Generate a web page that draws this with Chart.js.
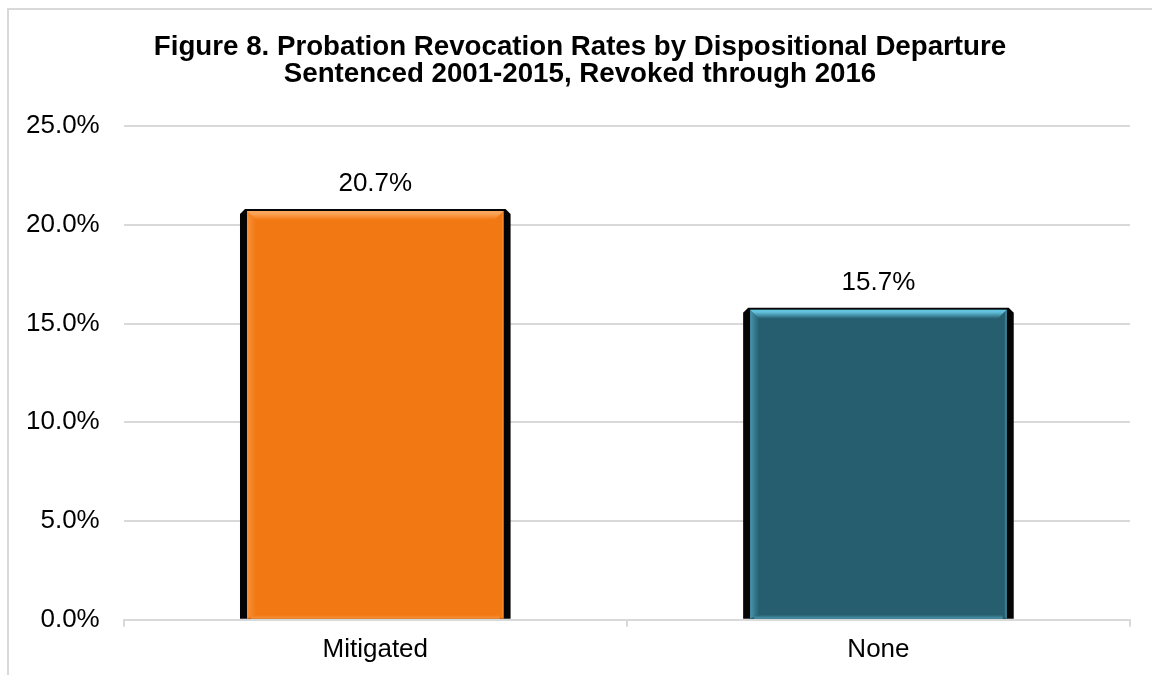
<!DOCTYPE html>
<html>
<head>
<meta charset="utf-8">
<script src="https://cdn.jsdelivr.net/npm/chart.js@4.4.1/dist/chart.umd.min.js"></script>
<style>
  html, body { margin: 0; padding: 0; background: #fff; overflow: hidden; }
  #wrap { position: relative; width: 1152px; height: 675px; }
  #frame { position: absolute; left: 7px; top: 8px; width: 1200px; height: 700px;
           border-left: 2px solid #d9d9d9; border-top: 2px solid #d9d9d9; box-sizing: border-box; }
  canvas { position: absolute; left: 0; top: 0; }
</style>
</head>
<body>
<div id="wrap">
  <div id="frame"></div>
  <canvas id="c" width="1152" height="675"></canvas>
</div>
<script>
// Revocation rates (percent) by departure type
const categories = ['Mitigated', 'None'];
const revocationRates = [20.7, 15.7];
const barColors = ['#F27813', '#265E6F'];
const bevelLight = ['#FBA65A', '#63C4DF'];
const yTicks = [0, 5, 10, 15, 20, 25];
const titleLines = ['Figure 8. Probation Revocation Rates by Dispositional Departure',
                    'Sentenced 2001-2015, Revoked through 2016'];

const FONT = "'Liberation Sans', Arial, sans-serif";

// Two-line heading, centred over the outer frame
const figureTitle = {
  id: 'figureTitle',
  afterDraw(chart) {
    const ctx = chart.ctx;
    ctx.save();
    ctx.font = 'bold 27.7px ' + FONT;
    ctx.fillStyle = '#000';
    ctx.textAlign = 'center';
    ctx.textBaseline = 'middle';
    const cx = chart.width / 2 + 4;
    titleLines.forEach((line, i) => ctx.fillText(line, cx, 47 + i * 27));
    ctx.restore();
  }
};

// Dark side shadow behind each bar and a bevelled face on top of it
const bevelPlugin = {
  id: 'bevel',
  beforeDatasetsDraw(chart) {
    const ctx = chart.ctx;
    chart.getDatasetMeta(0).data.forEach((bar) => {
      const l = bar.x - bar.width / 2, r = bar.x + bar.width / 2;
      ctx.save();
      ctx.fillStyle = '#050505';
      ctx.beginPath();
      ctx.moveTo(l - 7, bar.base);
      ctx.lineTo(l - 7, bar.y + 3);
      ctx.lineTo(l - 2, bar.y - 2);
      ctx.lineTo(r + 2, bar.y - 2);
      ctx.lineTo(r + 7, bar.y + 3);
      ctx.lineTo(r + 7, bar.base);
      ctx.closePath();
      ctx.fill();
      ctx.restore();
    });
  },
  afterDatasetsDraw(chart) {
    const ctx = chart.ctx;
    chart.getDatasetMeta(0).data.forEach((bar, i) => {
      const l = bar.x - bar.width / 2, r = bar.x + bar.width / 2;
      const t = bar.y, b = bar.base;
      const d = 9;
      ctx.save();
      // top band
      let g = ctx.createLinearGradient(0, t, 0, t + d);
      g.addColorStop(0, bevelLight[i]);
      g.addColorStop(0.25, bevelLight[i]);
      g.addColorStop(1, barColors[i]);
      ctx.fillStyle = g;
      ctx.beginPath();
      ctx.moveTo(l, t); ctx.lineTo(r, t); ctx.lineTo(r - d, t + d); ctx.lineTo(l + d, t + d);
      ctx.closePath(); ctx.fill();
      // left band
      g = ctx.createLinearGradient(l, 0, l + d, 0);
      g.addColorStop(0, bevelLight[i]);
      g.addColorStop(1, barColors[i]);
      ctx.globalAlpha = 0.55;
      ctx.fillStyle = g;
      ctx.beginPath();
      ctx.moveTo(l, t); ctx.lineTo(l + d, t + d); ctx.lineTo(l + d, b - 4); ctx.lineTo(l, b);
      ctx.closePath(); ctx.fill();
      // right band
      g = ctx.createLinearGradient(r - 6, 0, r, 0);
      g.addColorStop(0, barColors[i]);
      g.addColorStop(0.6, barColors[i]);
      g.addColorStop(1, bevelLight[i]);
      ctx.globalAlpha = 0.6;
      ctx.fillStyle = g;
      ctx.beginPath();
      ctx.moveTo(r, t); ctx.lineTo(r, b); ctx.lineTo(r - 6, b - 4); ctx.lineTo(r - 6, t + 6);
      ctx.closePath(); ctx.fill();
      // bottom band
      g = ctx.createLinearGradient(0, b - 4, 0, b);
      g.addColorStop(0, barColors[i]);
      g.addColorStop(1, bevelLight[i]);
      ctx.globalAlpha = 0.6;
      ctx.fillStyle = g;
      ctx.fillRect(l + 4, b - 4, bar.width - 8, 4);
      ctx.restore();
    });
  }
};

// Value labels above the bars
const valueLabels = {
  id: 'valueLabels',
  afterDatasetsDraw(chart) {
    const ctx = chart.ctx;
    const ds = chart.data.datasets[0];
    ctx.save();
    ctx.font = '26px ' + FONT;
    ctx.fillStyle = '#000';
    ctx.textAlign = 'center';
    ctx.textBaseline = 'middle';
    chart.getDatasetMeta(0).data.forEach((bar, i) => {
      ctx.fillText(ds.data[i].toFixed(1) + '%', bar.x, bar.y - 27);
    });
    ctx.restore();
  }
};

new Chart(document.getElementById('c'), {
  type: 'bar',
  data: {
    labels: categories,
    datasets: [{
      data: revocationRates,
      backgroundColor: barColors,
      borderWidth: 0,
      categoryPercentage: 1,
      barPercentage: 0.51
    }]
  },
  options: {
    responsive: false,
    animation: false,
    devicePixelRatio: 1,
    layout: { padding: { left: 2, right: 22, top: 126, bottom: 3 } },
    plugins: {
      legend: { display: false },
      tooltip: { enabled: false },
      title: { display: false }
    },
    scales: {
      x: {
        offset: true,
        grid: { display: true, drawOnChartArea: false, offset: true, color: '#d9d9d9', lineWidth: 2, tickLength: 7 },
        border: { display: true, color: '#d9d9d9', width: 2 },
        ticks: { color: '#000', font: { family: FONT, size: 26 }, padding: 7 }
      },
      y: {
        min: 0, max: 25,
        afterBuildTicks(scale) { scale.ticks = yTicks.map(v => ({ value: v })); },
        grid: { color: '#d9d9d9', lineWidth: 2, drawTicks: false },
        border: { display: false },
        ticks: {
          color: '#000', font: { family: FONT, size: 26 }, padding: 24,
          callback: (v) => v.toFixed(1) + '%'
        }
      }
    }
  },
  plugins: [bevelPlugin, valueLabels, figureTitle]
});
</script>
</body>
</html>
